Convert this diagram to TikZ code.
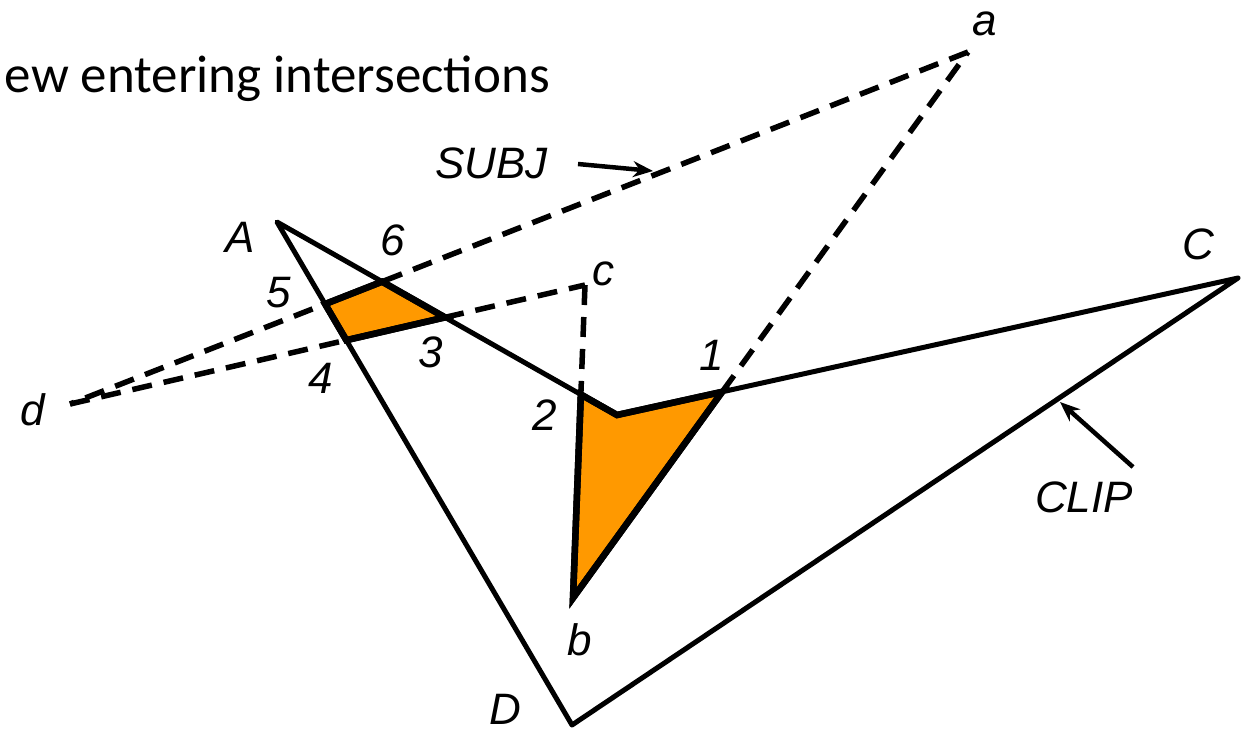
\documentclass[tikz,border=0pt]{standalone}
\usepackage{fontspec}
\setmainfont{Liberation Sans}
\newfontfamily\calfont{Carlito}
\usetikzlibrary{arrows.meta}
\definecolor{fillor}{RGB}{255,153,0}
\tikzset{
  edge/.style={line width=5pt, line join=round},
  subj/.style={line width=5.5pt, dash pattern=on 20pt off 12pt},
  region/.style={fill=fillor, draw=black, line width=6.5pt, line join=miter},
  lab/.style={font=\fontsize{44}{50}\selectfont\itshape, inner sep=0pt},
  pointer/.style={line width=4.5pt, -{Stealth[length=20pt,width=16pt]}}
}
\begin{document}
\begin{tikzpicture}[x=1pt,y=-1pt]
\useasboundingbox (0,0) rectangle (1252,732);
% clip polygon
\coordinate (A) at (277,222);
\coordinate (V) at (617,415);
\coordinate (C) at (1238,278);
\coordinate (D) at (572,725);
% subject polygon
\coordinate (a) at (968,52);
\coordinate (d) at (70,404);
\coordinate (c) at (585,285);
\coordinate (b) at (573,598);
% intersections
\coordinate (p1) at (intersection of V--C and b--a);
\coordinate (p2) at (intersection of A--V and c--b);
\coordinate (p3) at (intersection of A--V and d--c);
\coordinate (p4) at (intersection of A--D and d--c);
\coordinate (p5) at (intersection of A--D and a--d);
\coordinate (p6) at (intersection of A--V and a--d);
% regions
\filldraw[region] (p5) -- (p6) -- (p3) -- (p4) -- cycle;
\filldraw[region] (p2) -- (V) -- (p1) -- (b) -- cycle;
% clip outline
\draw[edge] (A) -- (V) -- (C) -- (D) -- cycle;
% subject outline (dashed)
\draw[subj] (a) -- (d);
\draw[subj] (d) -- (c);
\draw[subj] (c) -- (p2);
\draw[subj] (p1) -- (a);
% redraw region outlines on top
\draw[region, fill=none] (p5) -- (p6) -- (p3) -- (p4) -- cycle;
\draw[region, fill=none] (p2) -- (V) -- (p1) -- (b) -- cycle;
% pointers
\node[lab, anchor=base west] (subjlab) at (435,178) {SUBJ};
\coordinate (subjstart) at (578,164);
\coordinate (subjtip) at (653,171);
\draw[pointer] (subjstart) -- (subjtip);
\node[lab, anchor=base west] (cliplab) at (1035,512) {CLIP};
\coordinate (cliptip) at (1060,402);
\coordinate (clipstart) at (1133,467);
\draw[pointer] (clipstart) -- (cliptip);
% labels
\node[lab] (la) at (985,24) {a};
\node[lab] (lA) at (240,237) {A};
\node[lab] (l6) at (393,240) {6};
\node[lab] (lc) at (603,274) {c};
\node[lab] (l5) at (279,293) {5};
\node[lab] (l3) at (431,352) {3};
\node[lab] (l4) at (321,378) {4};
\node[lab] (ld) at (33,410) {d};
\node[lab] (l2) at (545,415) {2};
\node[lab] (l1) at (712,355) {1};
\node[lab] (lC) at (1198,244) {C};
\node[lab] (lb) at (580,640) {b};
\node[lab] (lD) at (505,709) {D};
% title
\node[anchor=base east, inner sep=0pt, font=\calfont\fontsize{53}{60}\selectfont] (title) at (550,92) {ew entering intersections};
\end{tikzpicture}
\end{document}
